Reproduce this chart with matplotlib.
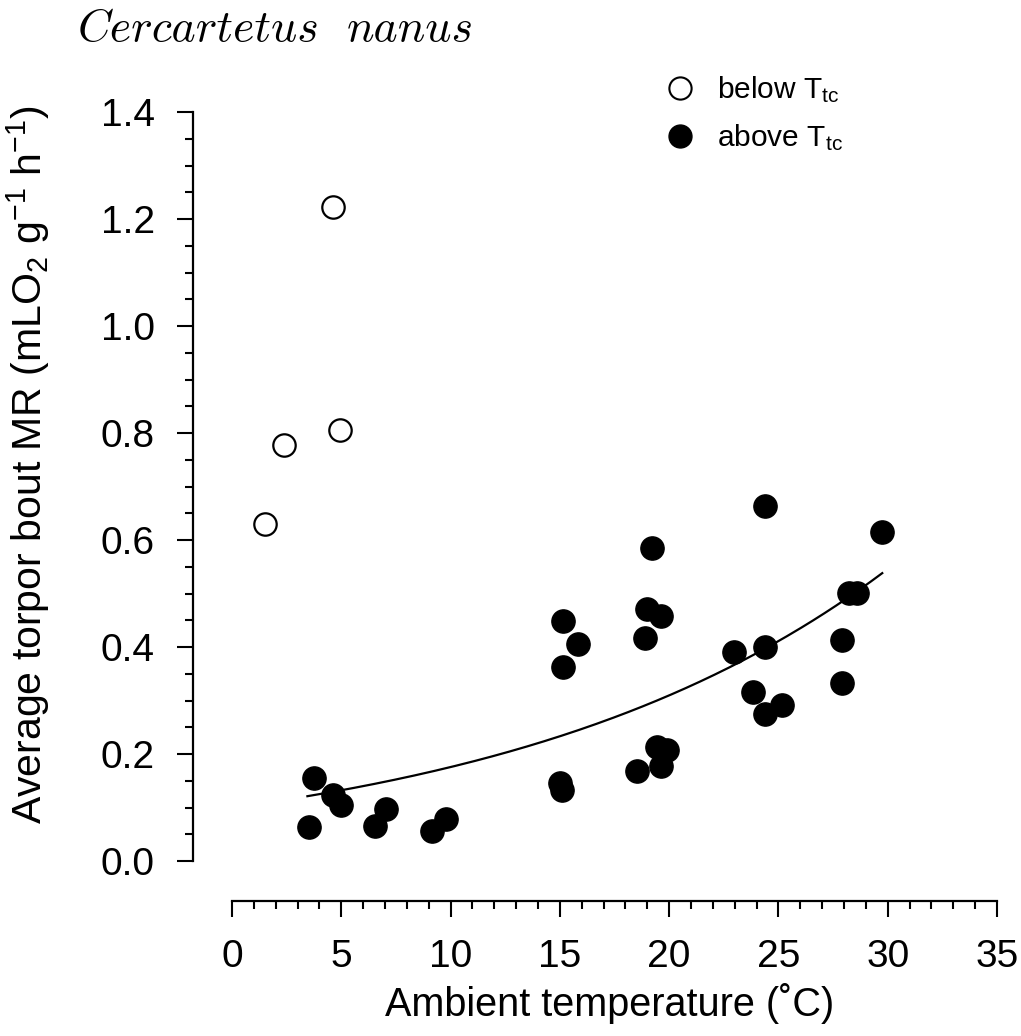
import numpy as np
import matplotlib
matplotlib.use("Agg")
import matplotlib.pyplot as plt
from matplotlib.ticker import MultipleLocator, FormatStrFormatter
from matplotlib.lines import Line2D

plt.rcParams['font.family'] = ['Liberation Sans', 'DejaVu Sans']
plt.rcParams['mathtext.fontset'] = 'custom'
plt.rcParams['mathtext.rm'] = 'Liberation Sans'
plt.rcParams['mathtext.it'] = 'Liberation Sans:italic'

# below T_tc (open circles)
below_x = [1.5, 2.4, 4.6, 4.95]
below_y = [0.630, 0.778, 1.222, 0.806]

# above T_tc (filled circles)
above_x = [3.5, 3.75, 4.6, 5.0, 6.55, 7.05, 9.15, 9.8,
           15.0, 15.1, 15.15, 15.85, 15.15,
           18.55, 18.9, 19.0, 19.2, 19.45, 19.65, 19.65, 19.9,
           22.95, 23.85, 24.4, 24.4, 24.4, 25.15,
           27.9, 27.9, 28.25, 28.6, 29.75]
above_y = [0.064, 0.155, 0.123, 0.105, 0.065, 0.097, 0.056, 0.078,
           0.145, 0.132, 0.449, 0.406, 0.363,
           0.168, 0.417, 0.471, 0.585, 0.213, 0.458, 0.178, 0.207,
           0.391, 0.316, 0.400, 0.275, 0.664, 0.292,
           0.413, 0.333, 0.501, 0.501, 0.615]

# exponential fit shown in the figure: y = fit_a * exp(fit_b * x)
fit_a = 0.0996
fit_b = 0.0567
fit_range = [3.45, 29.75]

fig = plt.figure(figsize=(10.21, 10.36), dpi=100)
ax = fig.add_axes([232/1021, 1-861/1036, 765/1021, 749/1036])

xc = np.linspace(fit_range[0], fit_range[1], 200)
ax.plot(xc, fit_a*np.exp(fit_b*xc), color='black', lw=1.6, zorder=2)

ax.scatter(above_x, above_y, s=280, c='black', edgecolors='black', zorder=3, clip_on=False)
ax.scatter(below_x, below_y, s=260, facecolors='white', edgecolors='black', linewidths=1.6, zorder=3, clip_on=False)

ax.set_xlim(0, 35)
ax.set_ylim(0, 1.4)
for s in ['top', 'right']:
    ax.spines[s].set_visible(False)
ax.spines['left'].set_position(('outward', 28))
ax.spines['bottom'].set_position(('outward', 29))
ax.spines['left'].set_bounds(0, 1.4)
ax.spines['bottom'].set_bounds(0, 35)
for s in ['left', 'bottom']:
    ax.spines[s].set_linewidth(1.6)

ax.xaxis.set_major_locator(MultipleLocator(5))
ax.xaxis.set_minor_locator(MultipleLocator(1))
ax.yaxis.set_major_locator(MultipleLocator(0.2))
ax.yaxis.set_minor_locator(MultipleLocator(0.05))
ax.yaxis.set_major_formatter(FormatStrFormatter('%.1f'))
ax.tick_params(which='major', direction='out', length=11.5, width=1.5, labelsize=28)
ax.tick_params(which='minor', direction='out', length=6, width=1.5)
ax.tick_params(axis='y', which='major', pad=16)
ax.tick_params(axis='x', which='major', pad=16)

fig.text(610/1021, 1-1004/1036, 'Ambient temperature (˚C)', fontsize=28.5, ha='center', va='center')
fig.text(28/1021, 1-465/1036, r'Average torpor bout MR (mLO$_2$ g$^{\mathrm{-1}}$ h$^{\mathrm{-1}}$)',
         fontsize=29.5, rotation=90, ha='center', va='center')

fig.text(78/1021, 1-30/1036, 'Cercartetus', family='cmmi10', fontsize=33, va='center', ha='left')
fig.text(347/1021, 1-30/1036, 'nanus', family='cmmi10', fontsize=33, va='center', ha='left')

handles = [Line2D([], [], ls='none', marker='o', ms=16, mfc='white', mec='black', mew=1.5),
           Line2D([], [], ls='none', marker='o', ms=16.5, mfc='black', mec='black')]
leg = fig.legend(handles, [r'below T$_{\mathrm{tc}}$', r'above T$_{\mathrm{tc}}$'],
                 loc='upper left', bbox_to_anchor=(665/1021, 1-74/1036),
                 frameon=False, fontsize=21.5, handletextpad=0.75, labelspacing=0.58,
                 borderaxespad=0, borderpad=0, handlelength=1.0)

fig.savefig('out.png', dpi=100)
